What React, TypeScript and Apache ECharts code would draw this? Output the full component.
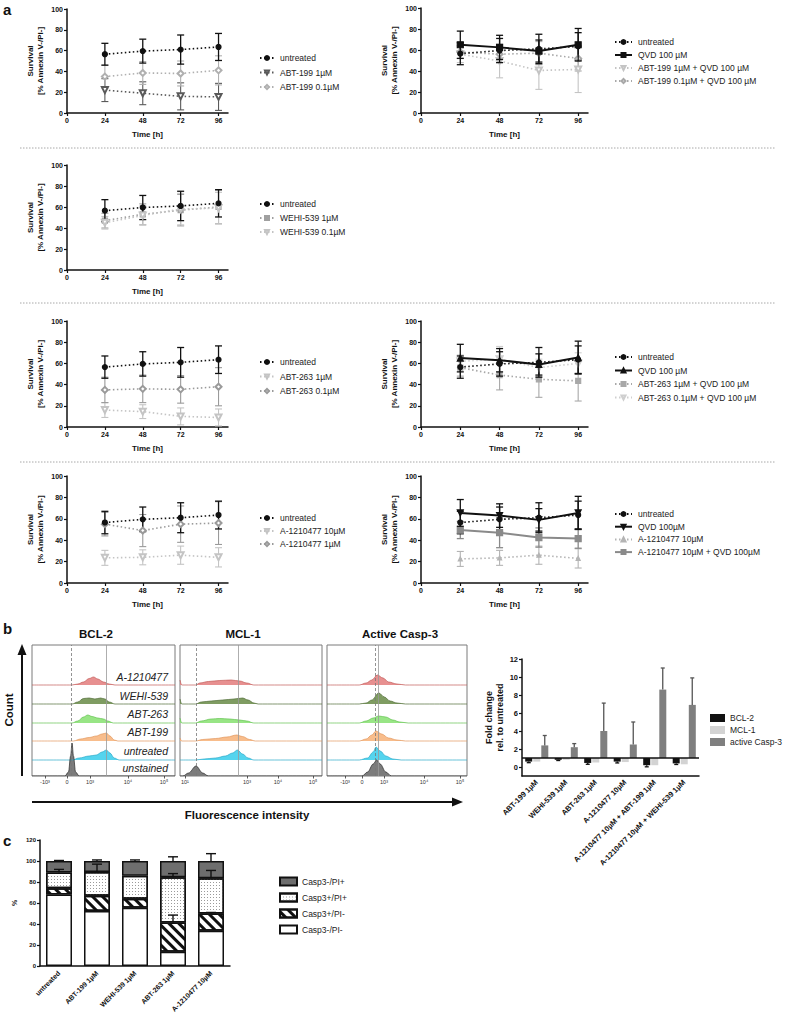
import React, { useEffect, useRef } from 'react';
import * as echarts from 'echarts';

const FONT = '"Liberation Sans", Arial, Helvetica, sans-serif';

// ---------------- Panel a data (survival, % Annexin V-/PI-) ----------------
const TIMES = [24, 48, 72, 96];
const TIME_TICKS = [0, 24, 48, 72, 96];
const UNTREATED = [56.5, 59.5, 61, 63.5];
const UNTREATED_SD = [10.5, 11.5, 14, 13];
const ABT199_1 = [22, 19, 16, 15.5];
const ABT199_1_SD = [11, 11, 13, 13];
const ABT199_01 = [35, 38.5, 38, 41];
const ABT199_01_SD = [11, 11, 12, 14];
const QVD_R1 = [65, 62.5, 59, 65];
const QVD_R1_SD = [13, 11.5, 10.5, 15.5];
const ABT199_1_QVD = [56, 49.5, 40.5, 41.5];
const ABT199_1_QVD_SD = [8, 16, 18, 22];
const ABT199_01_QVD = [58, 56, 57, 52];
const ABT199_01_QVD_SD = [6, 8, 11, 12];
const WEHI_1 = [47, 53, 57, 60];
const WEHI_1_SD = [7, 10, 15, 16];
const WEHI_01 = [45, 52, 58, 59];
const WEHI_01_SD = [6, 9, 15, 15];
const ABT263_1 = [16, 14.5, 10, 9];
const ABT263_1_SD = [7, 6.5, 8, 8];
const ABT263_01 = [35, 36, 35.5, 38];
const ABT263_01_SD = [12, 13, 13, 18];
const QVD_R3 = [65, 63, 59, 65.5];
const QVD_R3_SD = [13, 11, 10, 15.5];
const ABT263_1_QVD = [56, 49, 45, 43.5];
const ABT263_1_QVD_SD = [8, 14, 17, 19];
const ABT263_01_QVD = [62, 64, 56, 60];
const ABT263_01_QVD_SD = [6, 12, 8, 10];
const A121_10 = [23.5, 24, 26, 24];
const A121_10_SD = [7, 7, 8.5, 9];
const A121_1 = [55, 49, 55, 56];
const A121_1_SD = [11, 15, 17, 20];
const QVD_R4 = [65.5, 63, 59, 65.5];
const QVD_R4_SD = [12.5, 11, 10.5, 15.5];
const A121_10_R4 = [22.5, 23.5, 26, 23];
const A121_10_R4_SD = [7, 7, 8.5, 9];
const A121_10_QVD = [49.5, 47, 42.5, 41.5];
const A121_10_QVD_SD = [8, 14, 9, 9];

// ---------------- Panel b histograms (x in channel units 0..1000, h = peak height) ----------------
const HIST_ROWS = ['A-1210477', 'WEHI-539', 'ABT-263', 'ABT-199', 'untreated', 'unstained'];
const BCL2_TICK_POS = [91, 245, 406, 671, 923];
const BCL2_TICK_LAB = ['-10³', '0', '10³', '10⁴', '10⁵'];
const BCL2_REF = [273, 517];
const BCL2_A121 = [[0, 0], [280, 0], [320, 1], [360, 3], [400, 6.5], [430, 8], [460, 6], [500, 3], [540, 1], [580, 0], [1000, 0]];
const BCL2_WEHI = [[0, 0], [280, 0], [320, 2], [360, 5.5], [400, 6], [440, 5], [480, 6], [510, 5], [540, 2], [580, 0], [1000, 0]];
const BCL2_ABT263 = [[0, 0], [280, 0], [320, 2], [360, 6], [390, 8], [420, 6.5], [460, 5], [500, 4], [530, 2], [570, 0], [1000, 0]];
const BCL2_ABT199 = [[0, 0], [290, 0], [340, 2], [400, 3.5], [450, 5], [490, 7], [520, 8], [545, 5], [575, 1], [600, 0], [1000, 0]];
const BCL2_UNTR = [[0, 0], [280, 0], [330, 2], [400, 4], [450, 5], [490, 8], [520, 10], [545, 7], [575, 2], [610, 0], [1000, 0]];
const BCL2_UNST = [[0, 0], [230, 0], [255, 4], [270, 20], [280, 33], [290, 20], [305, 4], [330, 0], [1000, 0]];

const MCL1_TICK_POS = [35, 472, 690, 937];
const MCL1_TICK_LAB = ['10¹', '10³', '10⁴', '10⁵'];
const MCL1_REF = [113, 408];
const MCL1_A121 = [[0, 5], [12, 0], [110, 0], [140, 2], [200, 3.5], [280, 4.5], [360, 5], [420, 4], [470, 2], [520, 0], [1000, 0]];
const MCL1_WEHI = [[0, 5], [12, 0], [110, 0], [150, 2], [220, 3], [300, 4], [380, 5], [440, 6], [480, 4], [520, 1], [550, 0], [1000, 0]];
const MCL1_ABT263 = [[0, 5], [12, 0], [110, 0], [150, 2], [220, 4], [280, 4.5], [350, 4], [420, 3], [470, 2], [520, 0], [1000, 0]];
const MCL1_ABT199 = [[0, 3], [12, 0], [110, 0], [160, 1.5], [250, 2.5], [330, 4], [400, 6], [440, 4.5], [490, 1.5], [530, 0], [1000, 0]];
const MCL1_UNTR = [[0, 0], [110, 0], [170, 1], [250, 2], [320, 4], [370, 7], [405, 10], [440, 6], [480, 2], [520, 0], [1000, 0]];
const MCL1_UNST = [[0, 0], [20, 0], [60, 3], [113, 10], [160, 3], [200, 0], [1000, 0]];

const CASP3_TICK_POS = [129, 250, 407, 693, 950];
const CASP3_TICK_LAB = ['-10³', '0', '10³', '10⁴', '10⁵'];
const CASP3_REF = [343, 364];
const CASP3_A121 = [[0, 0], [230, 0], [280, 2], [320, 5], [360, 10], [400, 7], [440, 3], [500, 1], [560, 0], [1000, 0]];
const CASP3_WEHI = [[0, 0], [230, 0], [280, 1], [320, 4], [370, 11], [410, 7], [450, 3], [500, 1], [560, 0], [1000, 0]];
const CASP3_ABT263 = [[0, 0], [230, 0], [280, 2], [330, 5], [370, 7], [420, 6], [470, 3], [520, 1], [580, 0], [1000, 0]];
const CASP3_ABT199 = [[0, 0], [230, 0], [280, 2], [320, 6], [350, 10], [390, 7], [440, 3], [500, 1], [560, 0], [1000, 0]];
const CASP3_UNTR = [[0, 0], [230, 0], [290, 2], [330, 8], [350, 13], [380, 9], [420, 4], [470, 1], [530, 0], [1000, 0]];
const CASP3_UNST = [[0, 0], [250, 0], [290, 4], [330, 12], [355, 16], [380, 12], [420, 4], [460, 0], [1000, 0]];

// ---------------- Panel b fold change ----------------
const FC_CATS = ['ABT-199 1µM', 'WEHI-539 1µM', 'ABT-263 1µM', 'A-1210477 10µM', 'A-1210477 10µM + ABT-199 1µM', 'A-1210477 10µM + WEHI-539 1µM'];
const FC_BCL2 = [0.6, 0.8, 0.45, 0.6, 0.2, 0.4];
const FC_BCL2_ERR = [0.12, 0.08, 0.15, 0.15, 0.18, 0.12];
const FC_MCL1 = [0.6, 0.8, 0.5, 0.55, 0.2, 0.3];
const FC_CASP3 = [2.4, 2.2, 4.0, 2.5, 8.6, 6.9];
const FC_CASP3_ERR = [1.1, 0.4, 3.1, 2.5, 2.4, 3.0];
const FC_TICKS = [0, 2, 4, 6, 8, 10, 12];

// ---------------- Panel c stacked % ----------------
const C_CATS = ['untreated', 'ABT-199 1µM', 'WEHI-539 1µM', 'ABT-263 1µM', 'A-1210477 10µM'];
const C_NEG_NEG = [68, 52.5, 55.5, 13.5, 33.5];
const C_POS_NEG = [6, 14.5, 8.5, 28, 16.5];
const C_POS_POS = [15, 22.5, 22, 43, 33.5];
const C_NEG_POS = [11, 10.5, 14, 15.5, 16.5];
const C_ERR_POS_NEG = [0, 0, 0, 7, 1];
const C_ERR_POS_POS = [3, 7.5, 0, 3.5, 7.5];
const C_ERR_NEG_POS = [0.5, 1, 1, 4, 7];

// ---------------- helpers ----------------
const errRender = (color: string, half: number, width: number, offset = 0, bothCaps = true) =>
  (_p: any, api: any) => {
    const a = api.coord([api.value(0), api.value(1)]);
    const b = api.coord([api.value(0), api.value(2)]);
    const x = a[0] + offset;
    const st = { stroke: color, lineWidth: width };
    const children: any[] = [
      { type: 'line', shape: { x1: x, y1: a[1], x2: x, y2: b[1] }, style: st },
      { type: 'line', shape: { x1: x - half, y1: b[1], x2: x + half, y2: b[1] }, style: st },
    ];
    if (bothCaps) children.push({ type: 'line', shape: { x1: x - half, y1: a[1], x2: x + half, y2: a[1] }, style: st });
    return { type: 'group', children };
  };

type Line = { label: string; mean: number[]; sd: number[]; color: string; symbol: string; rot?: number; solid?: boolean; w?: number; size?: number };
type Plot = { left: number; top: number; width: number; height: number; legendLeft: number; legendTop: number; legendGap: number; iconW: number; lines: Line[] };

const U: Line = { label: 'untreated', mean: UNTREATED, sd: UNTREATED_SD, color: '#111', symbol: 'circle', size: 5 };

const PLOTS: Plot[] = [
  { left: 67, top: 9, width: 161, height: 104, legendLeft: 259, legendTop: 53.5, legendGap: 4.5, iconW: 14, lines: [
    { label: 'ABT-199 1µM', mean: ABT199_1, sd: ABT199_1_SD, color: '#5a5a5a', symbol: 'emptyTriangle', rot: 180 },
    { label: 'ABT-199 0.1µM', mean: ABT199_01, sd: ABT199_01_SD, color: '#b0b0b0', symbol: 'emptyDiamond' },
    U,
  ] },
  { left: 421, top: 8, width: 167, height: 105, legendLeft: 614, legendTop: 37.5, legendGap: 3, iconW: 17, lines: [
    { label: 'ABT-199 1µM + QVD 100 µM', mean: ABT199_1_QVD, sd: ABT199_1_QVD_SD, color: '#c4c4c4', symbol: 'emptyTriangle', rot: 180 },
    { label: 'ABT-199 0.1µM + QVD 100 µM', mean: ABT199_01_QVD, sd: ABT199_01_QVD_SD, color: '#a8a8a8', symbol: 'emptyDiamond' },
    U,
    { label: 'QVD 100 µM', mean: QVD_R1, sd: QVD_R1_SD, color: '#111', symbol: 'rect', solid: true, w: 2, size: 6 },
  ] },
  { left: 67, top: 165, width: 161, height: 105, legendLeft: 259, legendTop: 199.5, legendGap: 4, iconW: 14, lines: [
    { label: 'WEHI-539 1µM', mean: WEHI_1, sd: WEHI_1_SD, color: '#a0a0a0', symbol: 'rect', size: 5 },
    { label: 'WEHI-539 0.1µM', mean: WEHI_01, sd: WEHI_01_SD, color: '#c4c4c4', symbol: 'emptyTriangle', rot: 180 },
    U,
  ] },
  { left: 67, top: 321, width: 161, height: 106, legendLeft: 259, legendTop: 357.5, legendGap: 4.5, iconW: 14, lines: [
    { label: 'ABT-263 1µM', mean: ABT263_1, sd: ABT263_1_SD, color: '#c4c4c4', symbol: 'emptyTriangle', rot: 180 },
    { label: 'ABT-263 0.1µM', mean: ABT263_01, sd: ABT263_01_SD, color: '#9a9a9a', symbol: 'emptyDiamond' },
    U,
  ] },
  { left: 421, top: 321, width: 167, height: 106, legendLeft: 614, legendTop: 352.5, legendGap: 3.5, iconW: 17, lines: [
    { label: 'ABT-263 1µM + QVD 100 µM', mean: ABT263_1_QVD, sd: ABT263_1_QVD_SD, color: '#a8a8a8', symbol: 'rect', size: 5 },
    { label: 'ABT-263 0.1µM + QVD 100 µM', mean: ABT263_01_QVD, sd: ABT263_01_QVD_SD, color: '#cfcfcf', symbol: 'emptyTriangle', rot: 180 },
    U,
    { label: 'QVD 100 µM', mean: QVD_R3, sd: QVD_R3_SD, color: '#111', symbol: 'triangle', solid: true, w: 2, size: 6 },
  ] },
  { left: 67, top: 476, width: 161, height: 107, legendLeft: 259, legendTop: 513.5, legendGap: 3, iconW: 14, lines: [
    { label: 'A-1210477 10µM', mean: A121_10, sd: A121_10_SD, color: '#c4c4c4', symbol: 'emptyTriangle', rot: 180 },
    { label: 'A-1210477 1µM', mean: A121_1, sd: A121_1_SD, color: '#9a9a9a', symbol: 'emptyDiamond' },
    U,
  ] },
  { left: 421, top: 476, width: 167, height: 107, legendLeft: 614, legendTop: 509.5, legendGap: 2.7, iconW: 17, lines: [
    { label: 'A-1210477 10µM', mean: A121_10_R4, sd: A121_10_R4_SD, color: '#b4b4b4', symbol: 'triangle', size: 4 },
    { label: 'A-1210477 10µM + QVD 100µM', mean: A121_10_QVD, sd: A121_10_QVD_SD, color: '#8a8a8a', symbol: 'rect', solid: true, w: 2, size: 6 },
    U,
    { label: 'QVD 100µM', mean: QVD_R4, sd: QVD_R4_SD, color: '#111', symbol: 'triangle', rot: 180, solid: true, w: 2, size: 6 },
  ] },
];
const LEGEND_ORDER: number[][] = [
  [2, 0, 1], [2, 3, 0, 1], [2, 0, 1], [2, 0, 1], [2, 3, 0, 1], [2, 0, 1], [2, 3, 0, 1],
];

const HIST_FILL = ['#e79090', '#7f9c62', '#98e585', '#f8bd8c', '#55d4ee', '#7c7c7c'];
const HIST_LINE = ['#c25a57', '#4f6b35', '#62c24f', '#e2975c', '#2aa9c9', '#2a2a2a'];
const HIST_BASE = [91, 72, 53, 35, 16, 0];

const axisText = { fontFamily: FONT, color: '#111', fontWeight: 'bold' as const };

function buildOption() {
  const option: any = {
    animation: false,
    backgroundColor: '#fff',
    textStyle: { fontFamily: FONT },
    grid: [], xAxis: [], yAxis: [], series: [], legend: [],
  };

  // ---- panel a ----
  PLOTS.forEach((p, pi) => {
    const gi = option.grid.length;
    option.grid.push({ left: p.left, top: p.top, width: p.width, height: p.height, outerBoundsMode: 'none' });
    option.xAxis.push({
      gridIndex: gi, type: 'value', min: 0, max: 102,
      name: 'Time [h]', nameLocation: 'middle', nameGap: 17,
      nameTextStyle: { ...axisText, fontSize: 8 },
      axisLine: { lineStyle: { color: '#111', width: 1.5 } },
      axisTick: { customValues: TIME_TICKS, length: 3, lineStyle: { color: '#111', width: 1.2 } },
      axisLabel: { customValues: TIME_TICKS, ...axisText, fontSize: 7, margin: 4 },
      splitLine: { show: false },
    });
    option.yAxis.push({
      gridIndex: gi, type: 'value', min: 0, max: 100, interval: 20,
      name: 'Survival\n[% Annexin V-/PI-]', nameLocation: 'middle', nameRotate: 90, nameGap: 22,
      nameTextStyle: { ...axisText, fontSize: 8, lineHeight: 10 },
      axisLine: { show: true, lineStyle: { color: '#111', width: 1.5 } },
      axisTick: { show: true, length: 3, lineStyle: { color: '#111', width: 1.2 } },
      axisLabel: { ...axisText, fontSize: 7, margin: 4 },
      splitLine: { show: false },
    });
    p.lines.forEach((l, li) => {
      option.series.push({
        type: 'custom', xAxisIndex: gi, yAxisIndex: gi, silent: true, z: 2 + li,
        encode: { x: 0, y: [1, 2] },
        data: TIMES.map((t, i) => [t, Math.max(0, l.mean[i] - l.sd[i]), l.mean[i] + l.sd[i]]),
        renderItem: errRender(l.color, 3.5, l.solid || l.color === '#111' ? 1.3 : 1.1),
      });
      option.series.push({
        type: 'line', name: `${l.label}|${pi}`, xAxisIndex: gi, yAxisIndex: gi, z: 3 + li,
        data: TIMES.map((t, i) => [t, l.mean[i]]),
        symbol: l.symbol, symbolSize: l.size ?? 6, symbolRotate: l.rot ?? 0,
        itemStyle: { color: l.color, borderColor: l.color, borderWidth: 1.2 },
        lineStyle: { color: l.color, width: l.w ?? 1.6, type: l.solid ? 'solid' : [1.5, 2.5] },
      });
    });
    option.legend.push({
      left: p.legendLeft, top: p.legendTop, orient: 'vertical', padding: 0,
      itemWidth: p.iconW, itemHeight: 5, itemGap: p.legendGap + 1, selectedMode: false,
      data: LEGEND_ORDER[pi].map((k) => `${p.lines[k].label}|${pi}`),
      formatter: (n: string) => n.split('|')[0],
      textStyle: { fontFamily: FONT, fontSize: 8.5, color: '#222', padding: [0, 0, 0, 1] },
    });
  });

  // ---- panel b histograms ----
  const boxes = [
    { left: 32, width: 143, tickPos: BCL2_TICK_POS, tickLab: BCL2_TICK_LAB, ref: BCL2_REF, curves: [BCL2_A121, BCL2_WEHI, BCL2_ABT263, BCL2_ABT199, BCL2_UNTR, BCL2_UNST] },
    { left: 180, width: 142, tickPos: MCL1_TICK_POS, tickLab: MCL1_TICK_LAB, ref: MCL1_REF, curves: [MCL1_A121, MCL1_WEHI, MCL1_ABT263, MCL1_ABT199, MCL1_UNTR, MCL1_UNST] },
    { left: 327, width: 140, tickPos: CASP3_TICK_POS, tickLab: CASP3_TICK_LAB, ref: CASP3_REF, curves: [CASP3_A121, CASP3_WEHI, CASP3_ABT263, CASP3_ABT199, CASP3_UNTR, CASP3_UNST] },
  ];
  boxes.forEach((b, bi) => {
    const gi = option.grid.length;
    option.grid.push({ left: b.left, top: 645, width: b.width, height: 131, show: true, borderColor: '#7a7a7a', borderWidth: 1, backgroundColor: '#fff', outerBoundsMode: 'none' });
    option.xAxis.push({
      gridIndex: gi, type: 'value', min: 0, max: 1000,
      axisLine: { show: false },
      axisTick: { show: true, customValues: b.tickPos, length: 2.5, lineStyle: { color: '#333', width: 0.8 } },
      axisLabel: { customValues: b.tickPos, fontSize: 5.5, color: '#333', fontFamily: FONT, margin: 3,
        formatter: (v: number) => { const k = b.tickPos.indexOf(v); return k >= 0 ? b.tickLab[k] : ''; } },
      splitLine: { show: false },
    });
    option.yAxis.push({ gridIndex: gi, type: 'value', min: 0, max: 131, show: false });
    b.curves.forEach((c, ri) => {
      const base = HIST_BASE[ri];
      option.series.push({
        type: 'line', name: `hist-${bi}-${HIST_ROWS[ri]}`, xAxisIndex: gi, yAxisIndex: gi, silent: true,
        data: c.map(([x, h]) => [x, base + h]), symbol: 'none', smooth: 0.35, smoothMonotone: 'x',
        lineStyle: { color: HIST_LINE[ri], width: 0.7 },
        areaStyle: { origin: base, color: HIST_FILL[ri], opacity: 1 },
        z: 2,
        markLine: ri === 5 ? {
          silent: true, symbol: ['none', 'none'], label: { show: false },
          data: [
            { xAxis: b.ref[0], lineStyle: { color: '#777', width: 0.8, type: [3, 2] } },
            { xAxis: b.ref[1], lineStyle: { color: '#999', width: 0.8, type: 'solid' } },
          ],
        } : undefined,
      });
    });
  });

  // ---- panel b fold change bars ----
  {
    const gi = option.grid.length;
    option.grid.push({ left: 522, top: 659, width: 177, height: 117, outerBoundsMode: 'none' });
    option.xAxis.push({
      gridIndex: gi, type: 'category', data: FC_CATS,
      axisLine: { onZero: false, lineStyle: { color: '#111', width: 1.5 } },
      axisTick: { alignWithLabel: true, length: 4, lineStyle: { color: '#111', width: 1.2 } },
      axisLabel: { interval: 0, rotate: 45, ...axisText, fontSize: 7.5, margin: 5 },
    });
    option.yAxis.push({
      gridIndex: gi, type: 'value', min: -1, max: 12,
      name: 'Fold change\nrel. to untreated', nameLocation: 'middle', nameRotate: 90, nameGap: 14,
      nameTextStyle: { ...axisText, fontSize: 9, lineHeight: 11 },
      axisLine: { show: true, lineStyle: { color: '#111', width: 1.5 } },
      axisTick: { show: true, customValues: FC_TICKS, length: 3, lineStyle: { color: '#111', width: 1.2 } },
      axisLabel: { customValues: FC_TICKS, ...axisText, fontSize: 7.5, margin: 4 },
      splitLine: { show: false },
    });
    const groups = [
      { name: 'BCL-2', vals: FC_BCL2, color: '#111' },
      { name: 'MCL-1', vals: FC_MCL1, color: '#d3d3d3' },
      { name: 'active Casp-3', vals: FC_CASP3, color: '#7f7f7f' },
    ];
    groups.forEach((g, k) => {
      option.series.push({
        type: 'bar', name: `base-${k}`, stack: `s${k}`, xAxisIndex: gi, yAxisIndex: gi, silent: true,
        barWidth: 7, barGap: '15%',
        data: g.vals.map((v) => Math.min(v, 1)), itemStyle: { color: 'rgba(0,0,0,0)' },
      });
      option.series.push({
        type: 'bar', name: g.name, stack: `s${k}`, xAxisIndex: gi, yAxisIndex: gi,
        barWidth: 7, barGap: '15%',
        data: g.vals.map((v) => Math.abs(v - 1)), itemStyle: { color: g.color },
        markLine: k === 2 ? {
          silent: true, symbol: ['none', 'none'], label: { show: false },
          data: [{ yAxis: 1 }], lineStyle: { color: '#111', width: 1.5, type: 'solid' },
        } : undefined,
      });
    });
    option.series.push({
      type: 'custom', xAxisIndex: gi, yAxisIndex: gi, silent: true, z: 5, encode: { x: 0, y: [1, 2] },
      data: FC_CASP3.map((v, i) => [i, v, v + FC_CASP3_ERR[i]]),
      renderItem: errRender('#555', 2, 1.3, 8, false),
    });
    option.series.push({
      type: 'custom', xAxisIndex: gi, yAxisIndex: gi, silent: true, z: 5, encode: { x: 0, y: [1, 2] },
      data: FC_BCL2.map((v, i) => [i, v, v - FC_BCL2_ERR[i]]),
      renderItem: errRender('#111', 2, 1.3, -8, false),
    });
    option.legend.push({
      left: 710, top: 713.5, orient: 'vertical', padding: 0, itemWidth: 15, itemHeight: 8, itemGap: 3,
      selectedMode: false, icon: 'rect', data: groups.map((g) => g.name),
      textStyle: { fontFamily: FONT, fontSize: 8.5, color: '#222' },
    });
  }

  // ---- panel c ----
  {
    const gi = option.grid.length;
    option.grid.push({ left: 40, top: 840, width: 190, height: 126, outerBoundsMode: 'none' });
    option.xAxis.push({
      gridIndex: gi, type: 'category', data: C_CATS,
      axisLine: { lineStyle: { color: '#111', width: 1.5 } },
      axisTick: { alignWithLabel: true, length: 3, lineStyle: { color: '#111', width: 1.2 } },
      axisLabel: { interval: 0, rotate: 45, ...axisText, fontSize: 7, margin: 6 },
    });
    option.yAxis.push({
      gridIndex: gi, type: 'value', min: 0, max: 120, interval: 20,
      name: '%', nameLocation: 'middle', nameRotate: 90, nameGap: 22,
      nameTextStyle: { ...axisText, fontSize: 7 },
      axisLine: { show: true, lineStyle: { color: '#111', width: 1.5 } },
      axisTick: { show: true, length: 3, lineStyle: { color: '#111', width: 1.2 } },
      axisLabel: { ...axisText, fontSize: 6, margin: 4 },
      splitLine: { show: false },
    });
    const hatch = { symbol: 'rect', symbolSize: 1, color: '#111', dashArrayX: [1, 0], dashArrayY: [3, 3.2], rotation: Math.PI / 4 };
    const dots = { symbol: 'rect', symbolSize: 1, color: '#9a9a9a', dashArrayX: [1, 1.6], dashArrayY: [1, 1.6], rotation: 0 };
    const segs = [
      { name: 'Casp3-/PI-', vals: C_NEG_NEG, color: '#fff', decal: undefined as any },
      { name: 'Casp3+/PI-', vals: C_POS_NEG, color: '#fff', decal: hatch },
      { name: 'Casp3+/PI+', vals: C_POS_POS, color: '#fff', decal: dots },
      { name: 'Casp3-/PI+', vals: C_NEG_POS, color: '#6e6e6e', decal: undefined as any },
    ];
    segs.forEach((s) => {
      option.series.push({
        type: 'bar', name: s.name, stack: 'c', xAxisIndex: gi, yAxisIndex: gi, barWidth: 26,
        data: s.vals,
        itemStyle: { color: s.color, borderColor: '#111', borderWidth: 1.5, decal: s.decal },
      });
    });
    const errs = [C_ERR_POS_NEG, C_ERR_POS_POS, C_ERR_NEG_POS];
    errs.forEach((e, k) => {
      option.series.push({
        type: 'custom', xAxisIndex: gi, yAxisIndex: gi, silent: true, z: 5, encode: { x: 0, y: [1, 2] },
        data: C_CATS.map((_, i) => {
          let top = 0;
          for (let j = 0; j <= k + 1; j++) top += segs[j].vals[i];
          return [i, top, top + e[i]];
        }).filter((_, i) => e[i] > 0),
        renderItem: errRender('#111', 5, 1.4, 0, false),
      });
    });
    option.legend.push({
      left: 279, top: 876.5, orient: 'vertical', padding: 0, itemWidth: 17, itemHeight: 8, itemGap: 6,
      selectedMode: false, icon: 'rect', data: ['Casp3-/PI+', 'Casp3+/PI+', 'Casp3+/PI-', 'Casp3-/PI-'],
      textStyle: { fontFamily: FONT, fontSize: 8.5, color: '#222' },
    });
  }

  // ---- graphics ----
  const g: any[] = [];
  const txt = (x: number, y: number, text: string, style: any, extra: any = {}) =>
    g.push({ type: 'text', x, y, ...extra, style: { text, fontFamily: FONT, fill: '#111', ...style } });
  txt(3, 9, 'a', { fontSize: 15, fontWeight: 'bold', verticalAlign: 'middle' });
  txt(3, 628, 'b', { fontSize: 15, fontWeight: 'bold', verticalAlign: 'middle' });
  txt(3, 840, 'c', { fontSize: 15, fontWeight: 'bold', verticalAlign: 'middle' });
  [148, 303, 462].forEach((y) => g.push({ type: 'line', shape: { x1: 20, y1: y, x2: 775, y2: y }, style: { stroke: '#a8a8a8', lineWidth: 1, lineDash: [1.5, 1.5] } }));
  txt(96, 634, 'BCL-2', { fontSize: 11.5, fontWeight: 'bold', align: 'center', verticalAlign: 'middle' });
  txt(243, 634, 'MCL-1', { fontSize: 11.5, fontWeight: 'bold', align: 'center', verticalAlign: 'middle' });
  txt(400, 634, 'Active Casp-3', { fontSize: 11.5, fontWeight: 'bold', align: 'center', verticalAlign: 'middle' });
  const rowY = [677, 696, 714, 732, 751, 768];
  HIST_ROWS.forEach((r, i) => txt(168, rowY[i], r, { fontSize: 10.5, fontStyle: 'italic', align: 'right', verticalAlign: 'middle', fill: '#222' }, { z: 10 }));
  g.push({ type: 'line', shape: { x1: 22, y1: 776, x2: 22, y2: 652 }, style: { stroke: '#111', lineWidth: 2 } });
  g.push({ type: 'polygon', shape: { points: [[17.5, 655], [26.5, 655], [22, 644]] }, style: { fill: '#111' } });
  txt(9, 710, 'Count', { fontSize: 11.5, fontWeight: 'bold', align: 'center', verticalAlign: 'middle' }, { rotation: Math.PI / 2 });
  g.push({ type: 'line', shape: { x1: 32, y1: 802, x2: 455, y2: 802 }, style: { stroke: '#111', lineWidth: 2 } });
  g.push({ type: 'polygon', shape: { points: [[452, 797.5], [452, 806.5], [463, 802]] }, style: { fill: '#111' } });
  txt(247, 815, 'Fluorescence intensity', { fontSize: 11.5, fontWeight: 'bold', align: 'center', verticalAlign: 'middle' });
  option.graphic = { elements: g };
  return option;
}

export default function App() {
  const ref = useRef<HTMLDivElement>(null);
  useEffect(() => {
    if (!ref.current) return;
    const chart = echarts.init(ref.current, undefined, { renderer: 'svg' });
    chart.setOption(buildOption());
    return () => chart.dispose();
  }, []);
  return <div ref={ref} style={{ position: 'absolute', left: 0, top: 0, width: 785, height: 1016, background: '#fff' }} />;
}
